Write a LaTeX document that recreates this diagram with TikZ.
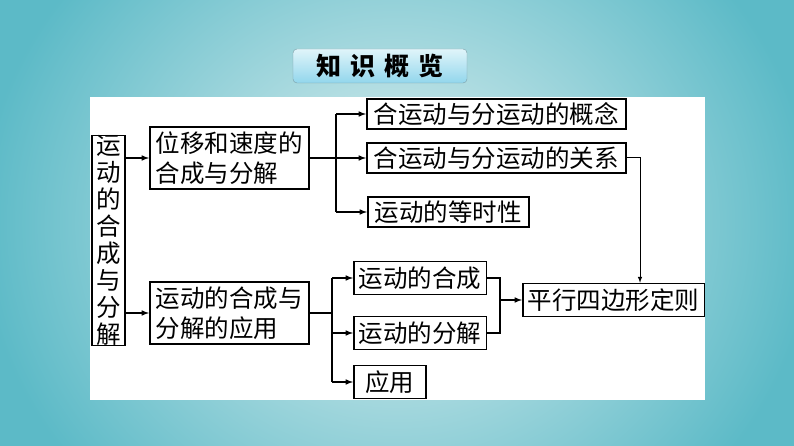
\documentclass[tikz,border=0pt]{standalone}
\usepackage{color}
\usepackage{fontspec}
\usepackage{tikz}
\newfontfamily\cjk{Noto Sans CJK SC}
\definecolor{teal500}{HTML}{5CBAC7}
\definecolor{teal100}{HTML}{E2F1F1}
\definecolor{cyan100}{HTML}{E0F5FA}
\definecolor{cyan300}{HTML}{92D6EC}
\definecolor{gray600}{HTML}{7C9DA6}
\usetikzlibrary{arrows}
\tikzstyle{caixa}=[draw=black, line width=1.5pt, fill=white, anchor=west, inner xsep=5pt, inner ysep=0pt, minimum height=30pt, align=left, font=\cjk\fontsize{24.5}{30}\selectfont]
\tikzstyle{seta}=[line width=1.5pt, -latex]

\begin{document}
\begin{tikzpicture}[x=1pt, y=-1pt]
		\useasboundingbox (0,0) rectangle (794,446);
		\clip (0,0) rectangle (794,446);
		\shade[inner color=teal100, outer color=teal500] (-20,-160) rectangle (814,606);
		\fill[white] (90,97) rectangle (705,400);
		\node[draw=gray600, rounded corners=4pt, top color=cyan100, bottom color=cyan300, minimum width=174pt, minimum height=34pt, font=\cjk\bfseries\fontsize{25}{28}\selectfont](title) at (380,66) {知\hspace{9pt}识\hspace{9pt}概\hspace{9pt}览};
		\node[caixa, anchor=center, minimum width=33pt, minimum height=205pt, inner xsep=0pt, align=center, font=\cjk\fontsize{24.5}{27}\selectfont](whole) at (108.5,240.5) {运\\动\\的\\合\\成\\与\\分\\解};
		\node[caixa, minimum width=159pt, minimum height=62pt](disp) at (149,158) {位移和速度的\\合成与分解};
		\node[caixa, minimum width=159pt, minimum height=62pt](app) at (149,313) {运动的合成与\\分解的应用};
		\node[caixa, minimum width=259pt](concept) at (366,114) {合运动与分运动的概念};
		\node[caixa, minimum width=259pt](relation) at (366,158) {合运动与分运动的关系};
		\node[caixa, minimum width=161pt](isochron) at (367,212) {运动的等时性};
		\node[caixa, minimum width=132pt, minimum height=33pt](compose) at (353,278) {运动的合成};
		\node[caixa, minimum width=132pt, minimum height=33pt](decompose) at (353,333) {运动的分解};
		\node[caixa, minimum width=72pt, minimum height=33pt](use) at (353,382) {应用};
		\node[caixa, minimum width=178pt, minimum height=33pt](parallel) at (522,300) {平行四边形定则};
		\coordinate (fork1) at (336,158);
		\coordinate (fork2) at (332,313);
		\coordinate (bend) at (640,158);
		\coordinate (join) at (500,300);
		\draw[seta] (whole.east |- disp.west) -- (disp.west);
		\draw[seta] (whole.east |- app.west) -- (app.west);
		\path[draw=black, line width=1.5pt]
			(disp.east) -- (fork1)
			(fork1 |- concept.west) -- (fork1 |- isochron.west)
			(app.east) -- (fork2)
			(fork2 |- compose.west) -- (fork2 |- use.west)
			(compose.east) -- (compose.east -| join) -- (decompose.east -| join) -- (decompose.east);
		\draw[seta] (fork1 |- concept.west) -- (concept.west);
		\draw[seta] (fork1) -- (relation.west);
		\draw[seta] (fork1 |- isochron.west) -- (isochron.west);
		\draw[seta] (fork2 |- compose.west) -- (compose.west);
		\draw[seta] (fork2 |- decompose.west) -- (decompose.west);
		\draw[seta] (fork2 |- use.west) -- (use.west);
		\draw[seta] (join) -- (parallel.west);
		\draw[line width=1pt, -latex] (relation.east) -- (bend) -- (bend |- parallel.north);
	\end{tikzpicture}
\end{document}
